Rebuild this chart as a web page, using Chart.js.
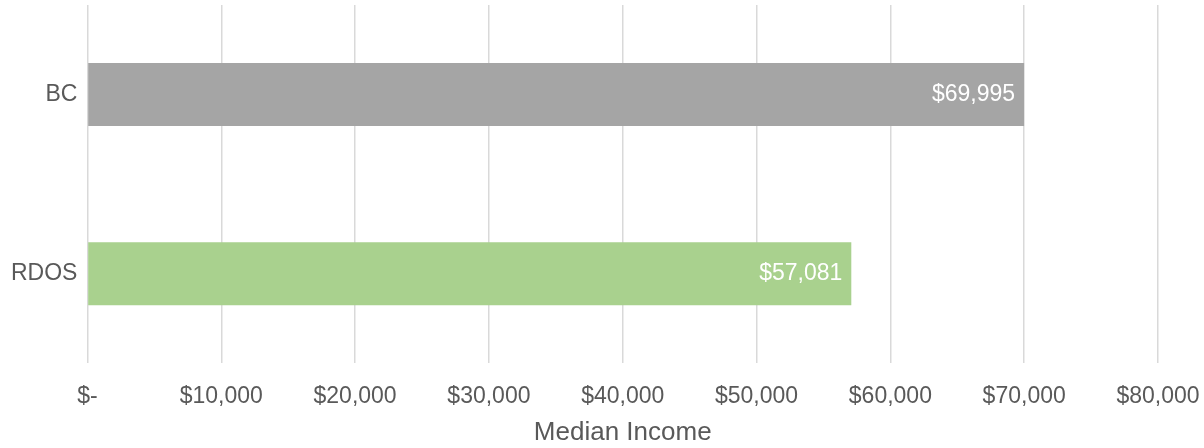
<!DOCTYPE html>
<html>
<head>
<meta charset="utf-8">
<script src="https://cdn.jsdelivr.net/npm/chart.js@4"></script>
<style>
  html, body { margin: 0; padding: 0; background: #fff; }
  #wrap { width: 1204px; height: 448px; }
</style>
</head>
<body>
<div id="wrap"><canvas id="incomeChart" width="1204" height="448"></canvas></div>
<script>
const regions = ["BC", "RDOS"];
const medianIncome = [69995, 57081];
const barColors = ["#a5a5a5", "#a9d18e"];
const xTicks = [0, 10000, 20000, 30000, 40000, 50000, 60000, 70000, 80000];

function money(v) {
  return v === 0 ? "$-" : "$" + v.toLocaleString("en-US");
}

// draws the white value label inside the end of each bar
const barValueLabels = {
  id: "barValueLabels",
  afterDatasetsDraw(chart) {
    const c = chart.ctx;
    const meta = chart.getDatasetMeta(0);
    c.save();
    c.font = "23px 'Liberation Sans', Arial, sans-serif";
    c.fillStyle = "#ffffff";
    c.textAlign = "right";
    c.textBaseline = "middle";
    meta.data.forEach((bar, i) => {
      c.fillText(money(chart.data.datasets[0].data[i]), bar.x - 9, bar.y);
    });
    c.restore();
  },
};

Chart.defaults.font.family = "'Liberation Sans', Arial, sans-serif";
Chart.defaults.color = "#595959";

const ctx = document.getElementById("incomeChart").getContext("2d");
const incomeChart = new Chart(ctx, {
  type: "bar",
  data: {
    labels: regions,
    datasets: [
      {
        label: "Median Income",
        data: medianIncome,
        backgroundColor: barColors,
        borderWidth: 0,
        categoryPercentage: 1,
        barPercentage: 0.352,
      },
    ],
  },
  options: {
    indexAxis: "y",
    responsive: false,
    animation: false,
    layout: { padding: { left: 11, right: 46, top: 5, bottom: 0 } },
    plugins: {
      legend: { display: false },
      tooltip: { enabled: false },
    },
    scales: {
      x: {
        min: 0,
        max: 80000,
        afterBuildTicks(scale) {
          scale.ticks = xTicks.map((v) => ({ value: v }));
        },
        // invisible tick marks give the gap between plot and tick labels
        grid: { color: "#d9d9d9", lineWidth: 1.5, drawTicks: true, tickLength: 20, tickColor: "transparent" },
        border: { display: false },
        ticks: {
          padding: 0,
          font: { size: 23 },
          callback: (v) => money(v),
        },
        title: {
          display: true,
          text: "Median Income",
          font: { size: 26 },
          padding: { top: 6, bottom: 0 },
        },
      },
      y: {
        grid: { display: true, drawOnChartArea: false, drawTicks: true, tickLength: 10, tickColor: "transparent" },
        border: { display: false },
        ticks: { padding: 0, font: { size: 23, lineHeight: 0.3 } },
      },
    },
  },
  plugins: [barValueLabels],
});
</script>
</body>
</html>
